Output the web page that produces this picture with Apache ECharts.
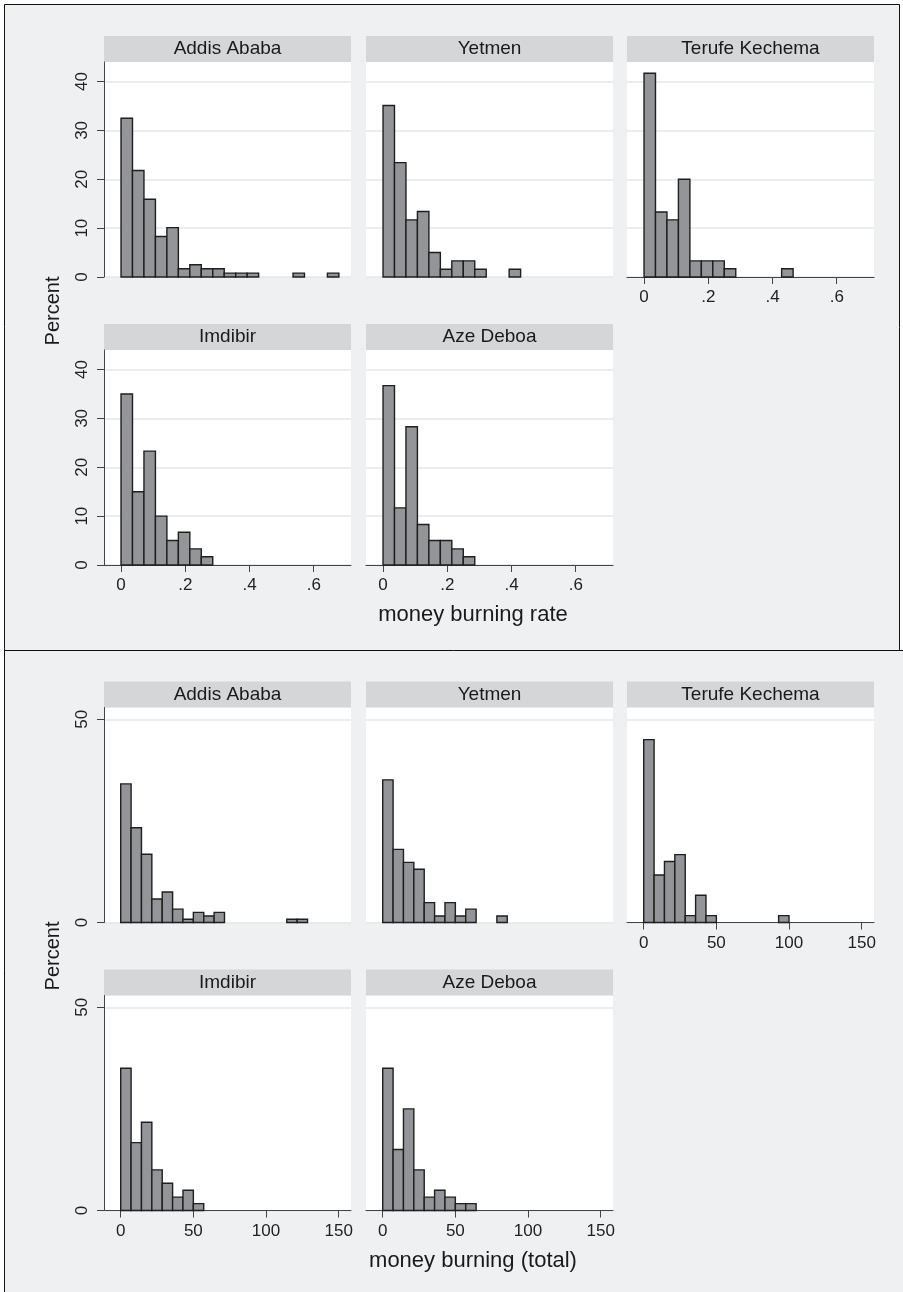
<!DOCTYPE html>
<html>
<head>
<meta charset="utf-8">
<title>money burning by village</title>
<script src="https://cdn.jsdelivr.net/npm/echarts@6/dist/echarts.min.js"></script>
<style>html,body{margin:0;padding:0;background:#fff;}</style>
</head>
<body>
<div id="main" style="width:903px;height:1292px;"></div>
<script>
var villages = ['Addis Ababa', 'Yetmen', 'Terufe Kechema', 'Imdibir', 'Aze Deboa'];

// histogram of money burning rate, percent per bin (bins start at 0)
var rateBinWidth = 0.0357;
var addisRate   = [32.5, 21.8, 15.9, 8.3, 10.1, 1.7, 2.5, 1.7, 1.7, 0.8, 0.8, 0.8, 0, 0, 0, 0.8, 0, 0, 0.8];
var yetmenRate  = [35.1, 23.4, 11.7, 13.4, 5.0, 1.6, 3.3, 3.3, 1.6, 0, 0, 1.6];
var terufeRate  = [41.7, 13.3, 11.7, 20.0, 3.3, 3.3, 3.3, 1.7, 0, 0, 0, 0, 1.7];
var imdibirRate = [35.0, 15.0, 23.3, 10.0, 5.0, 6.7, 3.3, 1.7];
var azeRate     = [36.7, 11.7, 28.3, 8.3, 5.0, 5.0, 3.3, 1.7];

// histogram of money burning (total)
var totalBinWidth = 7.143;
var addisTotal   = [34.1, 23.3, 16.8, 5.8, 7.5, 3.3, 0.8, 2.5, 1.6, 2.5, 0, 0, 0, 0, 0, 0, 0.8, 0.8];
var yetmenTotal  = [35.1, 18.0, 14.8, 13.1, 4.9, 1.6, 4.9, 1.6, 3.3, 0, 0, 1.6];
var terufeTotal  = [45.0, 11.7, 15.0, 16.7, 1.7, 6.7, 1.7, 0, 0, 0, 0, 0, 0, 1.7];
var imdibirTotal = [35.0, 16.7, 21.7, 10.0, 6.7, 3.3, 5.0, 1.7];
var azeTotal     = [35.0, 15.0, 25.0, 10.0, 3.3, 5.0, 3.3, 1.7, 1.7];

var rateXTicks = [0, 0.2, 0.4, 0.6];
var totalXTicks = [0, 50, 100, 150];
var rateYTicks = [0, 10, 20, 30, 40];
var totalYTicks = [0, 50];

var myChart = echarts.init(document.getElementById('main'));

var FONT = '"Liberation Sans", Arial, sans-serif';
var colLeft = [104, 366, 627];
var panelW = 247;
var panelH = 215;
var headH = 26;

var figures = [
    {
        data: [addisRate, yetmenRate, terufeRate, imdibirRate, azeRate],
        bin: rateBinWidth, xMin: -0.053, xMax: 0.716, yMax: 44,
        xTicks: rateXTicks, yTicks: rateYTicks,
        rowTop: [62, 350],
        xfmt: function (v) { return v === 0 ? '0' : String(v).replace(/^0/, ''); },
        xTitle: 'money burning rate', xTitleY: 615, percentY: 311
    },
    {
        data: [addisTotal, yetmenTotal, terufeTotal, imdibirTotal, azeTotal],
        bin: totalBinWidth, xMin: -11.5, xMax: 158.5, yMax: 52.9,
        xTicks: totalXTicks, yTicks: totalYTicks,
        rowTop: [707.5, 995.5],
        xfmt: function (v) { return String(v); },
        xTitle: 'money burning (total)', xTitleY: 1261, percentY: 956
    }
];

var grids = [], xAxes = [], yAxes = [], series = [];
var graphics = [
    // outer frames
    { type: 'rect', shape: { x: 0, y: 0, width: 903, height: 4 }, style: { fill: '#fff' }, silent: true },
    { type: 'rect', shape: { x: 0, y: 0, width: 4, height: 1292 }, style: { fill: '#fff' }, silent: true },
    { type: 'rect', shape: { x: 900, y: 0, width: 3, height: 650 }, style: { fill: '#fff' }, silent: true },
    { type: 'polyline', shape: { points: [[4.5, 1292], [4.5, 4.5], [899.5, 4.5], [899.5, 650.5]] }, style: { stroke: '#111', lineWidth: 1, fill: null }, silent: true },
    { type: 'line', shape: { x1: 4.5, y1: 650.5, x2: 903, y2: 650.5 }, style: { stroke: '#111', lineWidth: 1 }, silent: true }
];

figures.forEach(function (fig) {
    fig.data.forEach(function (pcts, k) {
        var row = k < 3 ? 0 : 1;
        var col = k < 3 ? k : k - 3;
        var idx = grids.length;
        var top = fig.rowTop[row];
        var showY = col === 0;
        var showX = row === 1 || col === 2;

        grids.push({
            left: colLeft[col], top: top, width: panelW, height: panelH,
            show: true, backgroundColor: '#fff', borderWidth: 0
        });
        xAxes.push({
            type: 'value', gridIndex: idx, min: fig.xMin, max: fig.xMax,
            axisLine: { show: showX, onZero: false, lineStyle: { color: '#444', width: 1 } },
            axisTick: { show: showX, length: 7, customValues: fig.xTicks, lineStyle: { color: '#444' } },
            axisLabel: {
                show: showX, customValues: fig.xTicks, margin: 12,
                fontFamily: FONT, fontSize: 17, fontWeight: 'normal', color: '#222', formatter: fig.xfmt
            },
            splitLine: { show: false }
        });
        yAxes.push({
            type: 'value', gridIndex: idx, min: 0, max: fig.yMax,
            axisLine: { show: showY, onZero: false, lineStyle: { color: '#444', width: 1 } },
            axisTick: { show: showY, length: 7, customValues: fig.yTicks, lineStyle: { color: '#444' } },
            axisLabel: {
                show: showY, customValues: fig.yTicks, rotate: 90, margin: 13,
                fontFamily: FONT, fontSize: 17, fontWeight: 'normal', color: '#222'
            },
            splitLine: { show: true, lineStyle: { color: '#e6e7e9', width: 1.5 } }
        });
        series.push({
            type: 'custom',
            xAxisIndex: idx, yAxisIndex: idx,
            silent: true,
            data: pcts.map(function (p, i) { return [i * fig.bin, (i + 1) * fig.bin, p]; }),
            renderItem: function (params, api) {
                var h = api.value(2);
                if (!h) return;
                var p0 = api.coord([api.value(0), h]);
                var p1 = api.coord([api.value(1), 0]);
                return {
                    type: 'rect',
                    shape: { x: p0[0], y: p0[1], width: p1[0] - p0[0], height: p1[1] - p0[1] },
                    style: { fill: '#939598', stroke: '#1f1f1f', lineWidth: 1.4 }
                };
            }
        });

        // panel header strip
        graphics.push({
            type: 'rect', silent: true,
            shape: { x: colLeft[col], y: top - headH, width: panelW, height: headH },
            style: { fill: '#d5d6d8' }
        });
        graphics.push({
            type: 'text', silent: true,
            x: colLeft[col] + panelW / 2, y: top - headH / 2,
            style: {
                text: villages[k], fill: '#1a1a1a', font: 'normal 19px ' + FONT,
                textAlign: 'center', textVerticalAlign: 'middle'
            }
        });
    });

    graphics.push({
        type: 'text', silent: true, x: 473, y: fig.xTitleY,
        style: { text: fig.xTitle, fill: '#1a1a1a', font: 'normal 22px ' + FONT, textAlign: 'center', textVerticalAlign: 'middle' }
    });
    graphics.push({
        type: 'text', silent: true, x: 53, y: fig.percentY, rotation: Math.PI / 2,
        style: { text: 'Percent', fill: '#1a1a1a', font: 'normal 20px ' + FONT, textAlign: 'center', textVerticalAlign: 'middle' }
    });
});

var option = {
    backgroundColor: '#eef0f2',
    animation: false,
    grid: grids,
    xAxis: xAxes,
    yAxis: yAxes,
    series: series,
    graphic: { elements: graphics }
};

myChart.setOption(option);
</script>
</body>
</html>
